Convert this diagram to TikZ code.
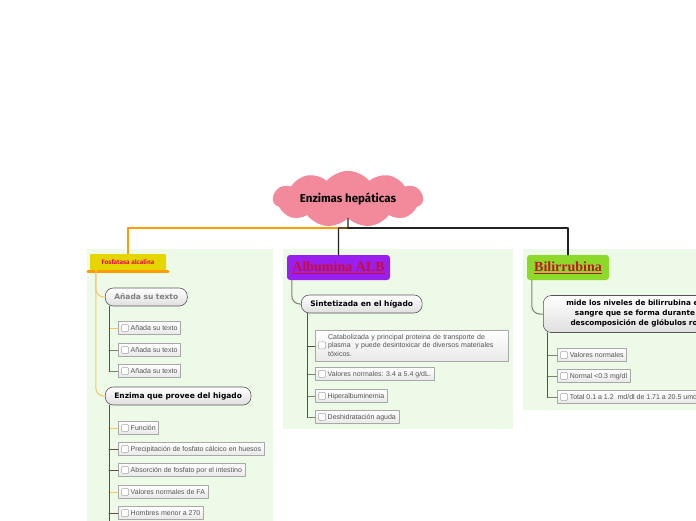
\documentclass[tikz,border=0pt]{standalone}
\usepackage{fontspec}
\setmainfont{Liberation Sans}
\newfontfamily\cloudfont{Fira Sans}
\newfontfamily\pillfont{DejaVu Sans}
\newfontfamily\headfont{Liberation Serif}
\usetikzlibrary{shapes.symbols, shapes.misc, positioning}
\definecolor{ink}{HTML}{222222}
\definecolor{cloudpink}{HTML}{F28A9C}
\definecolor{panelgreen}{HTML}{EEFAE8}
\definecolor{fosyellow}{HTML}{E6D600}
\definecolor{fosorange}{HTML}{FF9C00}
\definecolor{fosred}{HTML}{E8104A}
\definecolor{albpurple}{HTML}{9A1EEE}
\definecolor{bilgreen}{HTML}{8DD92A}
\definecolor{headred}{HTML}{C8102E}
\definecolor{pillline}{HTML}{555555}
\definecolor{itemline}{HTML}{A8A8A8}
\definecolor{itemtext}{HTML}{555555}
\definecolor{trunkdk}{HTML}{5A5236}
\definecolor{trunkgr}{HTML}{7C8668}
\definecolor{stubor}{HTML}{F6C66A}
\tikzset{
  el/.style={line cap=round, line join=round},
  panel/.style={fill=panelgreen},
  mainline/.style={ink, line width=1.3pt},
  fosline/.style={stubor, line width=1pt, rounded corners=8pt},
  hdline/.style={trunkgr, line width=1pt, rounded corners=8pt},
  trunk/.style={trunkdk, line width=1pt},
  stub/.style={line width=1pt},
  headbox/.style={rounded corners=3pt, minimum height=25pt, inner xsep=5pt, text=headred,
    font=\headfont\bfseries\fontsize{14}{16}\selectfont},
  pill/.style={draw=pillline, line width=0.6pt, rounded corners=8pt, top color=white, bottom color=gray!25,
    minimum height=18pt, inner xsep=9pt, anchor=west, font=\pillfont\bfseries\fontsize{7.5}{10}\selectfont},
  item/.style={draw=itemline, line width=0.6pt, top color=white, bottom color=gray!18, minimum height=13pt,
    inner xsep=3pt, inner ysep=1pt, anchor=west, text=itemtext, font=\fontsize{7}{8.5}\selectfont},
}
\newcommand{\chkbox}{\tikz[baseline=0pt]\draw[itemline, fill=white, rounded corners=1pt, line width=0.5pt] (0pt,-1pt) rectangle (7pt,6pt);}

\begin{document}
\begin{tikzpicture}[el, x=1pt, y=-1pt]
  \useasboundingbox (0,0) rectangle (696,520);
  \clip (0,0) rectangle (696,520);
  \fill[white] (0,0) rectangle (696,520);
  \fill[panel] (87,249) rectangle (273,530);
  \fill[panel] (283,249) rectangle (513,429);
  \fill[panel] (523,249) rectangle (700,410);

  \node[cloud, cloud puffs=11, cloud puff arc=100, aspect=3.4, fill=cloudpink, minimum width=150pt, minimum height=42pt,
        inner sep=0pt, font=\cloudfont\bfseries\fontsize{11.5}{13}\selectfont] (root) at (348,199) {Enzimas hepáticas};
  \node[fill=fosyellow, rounded corners=1pt, minimum width=76pt, minimum height=16pt, inner sep=1pt, text=fosred,
        font=\cloudfont\bfseries\fontsize{6.5}{7}\selectfont] (fos) at (128,262) {Fosfatasa alcalina};
  \draw[fosorange, line width=2.5pt] ([shift={(-2,1.5)}]fos.south west) -- ([shift={(2,1.5)}]fos.south east);
  \node[headbox, fill=albpurple, minimum width=103pt] (alb) at (338.5,267.5) {\underline{Albumina ALB}};
  \node[headbox, fill=bilgreen, minimum width=82pt] (bil) at (568,267.5) {\underline{Bilirrubina}};

  \coordinate (hub) at (348,228);
  \draw[fosorange, line width=1.3pt] (hub) -| (fos.north);
  \draw[mainline] (root.south) -- (hub) -| (alb.north);
  \draw[mainline] (hub) -| (bil.north);

  \node[pill, text=gray] (p11) at (105,297) {Añada su texto};
  \node[pill] (p12) at (105,396) {Enzima que provee del higado};
  \node[pill] (p21) at (301,304) {Sintetizada en el hígado};
  \node[pill, align=center, minimum height=37pt, inner xsep=23pt, font=\pillfont\bfseries\fontsize{7.3}{10}\selectfont] (p31) at (543,314)
    {mide los niveles de bilirrubina en la\\sangre que se forma durante la\\descomposición de glóbulos rojos};

  \draw[fosline] ([xshift=6pt]fos.south west) |- (p11.west);
  \draw[fosline] ([xshift=6pt]fos.south west) -- ([xshift=6pt]fos.south west |- p11.south) |- (p12.west);
  \draw[hdline] ([xshift=5pt]alb.south west) |- (p21.west);
  \draw[hdline] ([xshift=5pt]bil.south west) |- (p31.west);

  \foreach \t/\y/\c [count=\i] in {Añada su texto/328/stubor, Añada su texto/350/trunkgr, Añada su texto/371/trunkgr}{
    \node[item] (f\i) at (118,\y) {\chkbox\ \t};
    \draw[stub,\c] (f\i.west) -- ++(-9,0);}
  \draw[trunk] ([xshift=4pt]p11.south west) -- ([xshift=4pt]p11.south west |- f3.west);

  \foreach \t/\y/\c [count=\i] in {Función/428/stubor, Precipitación de fosfato cálcico en huesos/449/trunkdk,
      Absorción de fosfato por el intestino/470/trunkdk, Valores normales de FA/492/stubor, Hombres menor a 270/513/trunkdk}{
    \node[item] (e\i) at (118,\y) {\chkbox\ \t};
    \draw[stub,\c] (e\i.west) -- ++(-9,0);}
  \draw[trunk] ([xshift=4pt]p12.south west) -- ([xshift=4pt]p12.south west |- 0,525);

  \node[item, minimum height=31pt, text width=187pt, align=left] (s0) at (315,346) {\chkbox\ \begin{tabular}{@{}l@{}}Catabolizada y principal proteina de transporte de\\plasma\ \ y puede desintoxicar de diversos materiales\\tóxicos.\end{tabular}};
  \draw[stub,trunkdk] (s0.west) -- ++(-8,0);
  \foreach \t/\y [count=\i] in {{Valores normales: 3.4 a 5.4 g/dL.}/374, Hiperalbuminemia/396, Deshidratación aguda/417}{
    \node[item] (s\i) at (315,\y) {\chkbox\ \t};
    \draw[stub,trunkgr] (s\i.west) -- ++(-8,0);}
  \draw[trunk] ([xshift=6pt]p21.south west) -- ([xshift=6pt]p21.south west |- s3.west);

  \foreach \t/\y [count=\i] in {Valores normales/355, {Normal <0.3 mg/dl}/376, {Total 0.1 a 1.2\ \ md/dl de 1.71 a 20.5 umol/L}/397}{
    \node[item] (b\i) at (557,\y) {\chkbox\ \t};
    \draw[stub,trunkgr] (b\i.west) -- ++(-10,0);}
  \draw[trunk] ([xshift=4pt]p31.south west) -- ([xshift=4pt]p31.south west |- b3.west);
\end{tikzpicture}
\end{document}
